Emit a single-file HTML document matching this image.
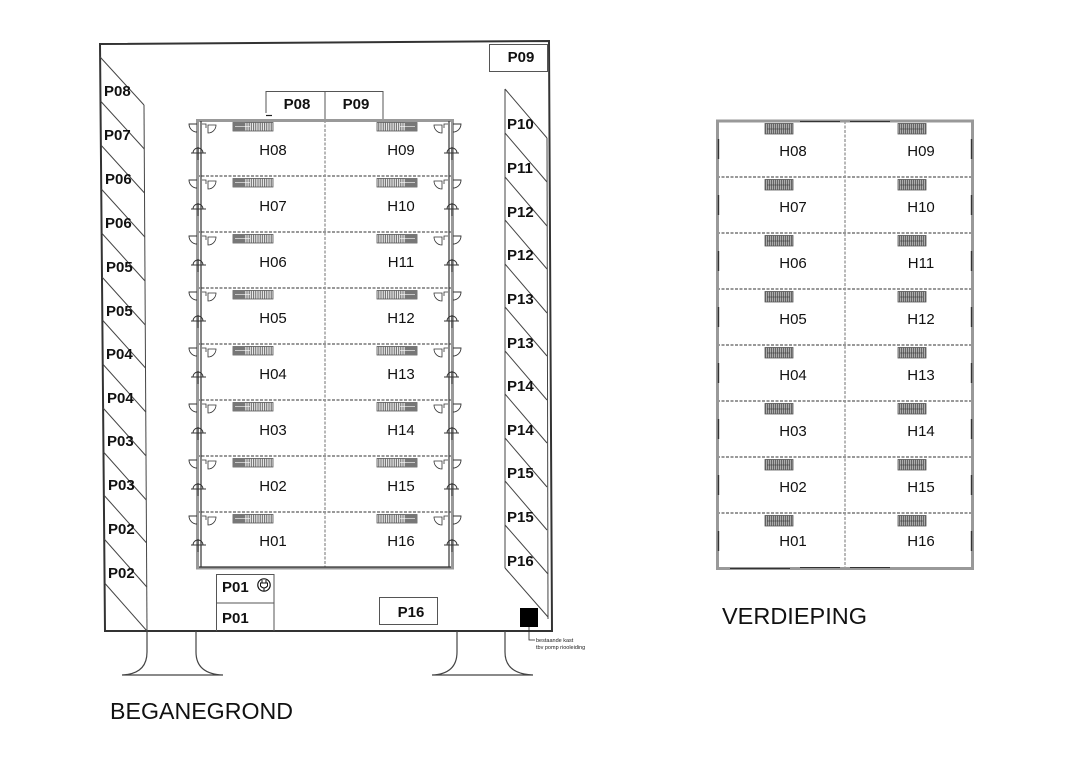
<!DOCTYPE html>
<html><head><meta charset="utf-8">
<style>
html,body{margin:0;padding:0;background:#fff;}
svg{display:block;}
text{font-family:"Liberation Sans",Arial,sans-serif;}
.p{font-weight:bold;font-size:15px;fill:#111;}
.h{font-size:15px;fill:#111;text-anchor:middle;}
</style></head><body>
<svg width="1080" height="763" viewBox="0 0 1080 763" xmlns="http://www.w3.org/2000/svg">
<defs>
<pattern id="hatch" width="2.2" height="20" patternUnits="userSpaceOnUse"><rect width="2.2" height="20" fill="#eee"/><line x1="0.6" y1="0" x2="0.6" y2="20" stroke="#555" stroke-width="0.9"/></pattern>
<pattern id="hatch2" width="2" height="20" patternUnits="userSpaceOnUse"><rect width="2" height="20" fill="#666"/><line x1="0.6" y1="0" x2="0.6" y2="20" stroke="#ddd" stroke-width="0.6"/></pattern>
<g id="lrow">
 <path d="M197 4 H189 A8 8 0 0 0 197 12" fill="none" stroke="#333" stroke-width="0.9"/>
 <path d="M202 4 H206 V8" fill="none" stroke="#333" stroke-width="0.8"/>
 <path d="M208 5 H216 A8 8 0 0 1 208 13 Z" fill="none" stroke="#333" stroke-width="0.8"/>
 <path d="M193 33 A5 5 0 0 1 203 33" fill="none" stroke="#333" stroke-width="0.9"/>
 <path d="M191 33 H206 M198 27 V40" stroke="#333" stroke-width="0.9" fill="none"/>
 <rect x="233" y="2.5" width="40" height="8.5" fill="url(#hatch)" stroke="#555" stroke-width="0.8"/>
 <rect x="233" y="2.5" width="12" height="8.5" fill="#777"/>
 <line x1="235" y1="6.5" x2="250" y2="6.5" stroke="#fff" stroke-width="0.6"/>
</g>
<g id="rrow">
 <rect x="765" y="2.5" width="28" height="10.5" fill="url(#hatch2)" stroke="#555" stroke-width="0.8"/>
 <line x1="767" y1="8" x2="790" y2="8" stroke="#333" stroke-width="0.6"/>
 <rect x="898" y="2.5" width="28" height="10.5" fill="url(#hatch2)" stroke="#555" stroke-width="0.8"/>
 <line x1="900" y1="8" x2="923" y2="8" stroke="#333" stroke-width="0.6"/>
 <line x1="718.5" y1="18" x2="718.5" y2="38" stroke="#333" stroke-width="1.4"/>
 <line x1="971.5" y1="18" x2="971.5" y2="38" stroke="#333" stroke-width="1.4"/>
</g>
</defs>

<!-- ===== BEGANEGROND outer building ===== -->
<polygon points="100,44 549,41 552,631 105,631" fill="none" stroke="#333" stroke-width="2"/>

<!-- left parking strip -->
<g stroke="#444" stroke-width="1" fill="none">
 <line x1="144" y1="105" x2="147" y2="631"/>
 <line x1="100.1" y1="57" x2="144" y2="105"/>
 <line x1="100.5" y1="101" x2="144.3" y2="149"/>
 <line x1="100.9" y1="145" x2="144.5" y2="193"/>
 <line x1="101.3" y1="189" x2="144.8" y2="237"/>
 <line x1="101.6" y1="233" x2="145" y2="281"/>
 <line x1="102" y1="277" x2="145.3" y2="325"/>
 <line x1="102.4" y1="320" x2="145.5" y2="368"/>
 <line x1="102.7" y1="364" x2="145.8" y2="412"/>
 <line x1="103.1" y1="408" x2="146.1" y2="456"/>
 <line x1="103.5" y1="452" x2="146.3" y2="500"/>
 <line x1="103.8" y1="495" x2="146.6" y2="543"/>
 <line x1="104.2" y1="539" x2="146.8" y2="587"/>
 <line x1="104.6" y1="583" x2="147" y2="631"/>
</g>
<text class="p" x="104" y="96">P08</text>
<text class="p" x="104" y="140">P07</text>
<text class="p" x="105" y="184">P06</text>
<text class="p" x="105" y="228">P06</text>
<text class="p" x="106" y="272">P05</text>
<text class="p" x="106" y="316">P05</text>
<text class="p" x="106" y="359">P04</text>
<text class="p" x="107" y="403">P04</text>
<text class="p" x="107" y="446">P03</text>
<text class="p" x="108" y="490">P03</text>
<text class="p" x="108" y="534">P02</text>
<text class="p" x="108" y="578">P02</text>

<!-- right parking strip -->
<g stroke="#444" stroke-width="1" fill="none">
 <line x1="505" y1="89" x2="505" y2="568"/>
 <line x1="547" y1="138" x2="548" y2="619"/>
 <line x1="505" y1="89" x2="547" y2="138"/>
 <line x1="505" y1="133" x2="547" y2="182"/>
 <line x1="505" y1="177" x2="547" y2="226"/>
 <line x1="505" y1="220" x2="547" y2="269"/>
 <line x1="505" y1="264" x2="547" y2="313"/>
 <line x1="505" y1="307" x2="547" y2="356"/>
 <line x1="505" y1="351" x2="547" y2="400"/>
 <line x1="505" y1="394" x2="547" y2="443"/>
 <line x1="505" y1="438" x2="547" y2="487"/>
 <line x1="505" y1="481" x2="547" y2="530"/>
 <line x1="505" y1="525" x2="548" y2="574"/>
 <line x1="505" y1="568" x2="548" y2="617"/>
</g>
<text class="p" x="507" y="129">P10</text>
<text class="p" x="507" y="173">P11</text>
<text class="p" x="507" y="217">P12</text>
<text class="p" x="507" y="260">P12</text>
<text class="p" x="507" y="304">P13</text>
<text class="p" x="507" y="348">P13</text>
<text class="p" x="507" y="391">P14</text>
<text class="p" x="507" y="435">P14</text>
<text class="p" x="507" y="478">P15</text>
<text class="p" x="507" y="522">P15</text>
<text class="p" x="507" y="566">P16</text>

<!-- top right P09 box -->
<rect x="489.5" y="44.5" width="58" height="27" fill="none" stroke="#555" stroke-width="1"/>
<text class="p" x="521" y="62" text-anchor="middle">P09</text>

<!-- P08 / P09 boxes above grid -->
<path d="M266 113 V91.5 H383 V119 M325 91.5 V119" fill="none" stroke="#555" stroke-width="1"/>
<line x1="266" y1="115.5" x2="272" y2="115.5" stroke="#222" stroke-width="1.2"/>
<text class="p" x="297" y="109" text-anchor="middle">P08</text>
<text class="p" x="356" y="109" text-anchor="middle">P09</text>

<!-- grid of units (ground) -->
<rect x="197.5" y="120.5" width="255" height="447.5" fill="none" stroke="#999" stroke-width="3"/>
<g stroke="#999" stroke-width="2" stroke-dasharray="3 1.5">
 <line x1="197" y1="176" x2="453" y2="176"/>
 <line x1="197" y1="232" x2="453" y2="232"/>
 <line x1="197" y1="288" x2="453" y2="288"/>
 <line x1="197" y1="344" x2="453" y2="344"/>
 <line x1="197" y1="400" x2="453" y2="400"/>
 <line x1="197" y1="456" x2="453" y2="456"/>
 <line x1="197" y1="512" x2="453" y2="512"/>
 <line x1="325" y1="120" x2="325" y2="568" stroke-width="1.4"/>
</g>
<g stroke="#333" stroke-width="1.2">
 <line x1="201" y1="121" x2="201" y2="567"/>
 <line x1="449" y1="121" x2="449" y2="567"/>
 <line x1="199" y1="567" x2="451" y2="567"/>
</g>
<use href="#lrow" transform="translate(0,120)"/>
<use href="#lrow" transform="translate(0,176)"/>
<use href="#lrow" transform="translate(0,232)"/>
<use href="#lrow" transform="translate(0,288)"/>
<use href="#lrow" transform="translate(0,344)"/>
<use href="#lrow" transform="translate(0,400)"/>
<use href="#lrow" transform="translate(0,456)"/>
<use href="#lrow" transform="translate(0,512)"/>
<use href="#lrow" transform="translate(650,120) scale(-1,1)"/>
<use href="#lrow" transform="translate(650,176) scale(-1,1)"/>
<use href="#lrow" transform="translate(650,232) scale(-1,1)"/>
<use href="#lrow" transform="translate(650,288) scale(-1,1)"/>
<use href="#lrow" transform="translate(650,344) scale(-1,1)"/>
<use href="#lrow" transform="translate(650,400) scale(-1,1)"/>
<use href="#lrow" transform="translate(650,456) scale(-1,1)"/>
<use href="#lrow" transform="translate(650,512) scale(-1,1)"/>

<text class="h" x="273" y="155">H08</text>
<text class="h" x="273" y="211">H07</text>
<text class="h" x="273" y="267">H06</text>
<text class="h" x="273" y="323">H05</text>
<text class="h" x="273" y="379">H04</text>
<text class="h" x="273" y="435">H03</text>
<text class="h" x="273" y="491">H02</text>
<text class="h" x="273" y="546">H01</text>
<text class="h" x="401" y="155">H09</text>
<text class="h" x="401" y="211">H10</text>
<text class="h" x="401" y="267">H11</text>
<text class="h" x="401" y="323">H12</text>
<text class="h" x="401" y="379">H13</text>
<text class="h" x="401" y="435">H14</text>
<text class="h" x="401" y="491">H15</text>
<text class="h" x="401" y="546">H16</text>

<!-- P01 boxes -->
<path d="M216.5 631 V574.5 H274 V631 M216.5 603 H274" fill="none" stroke="#555" stroke-width="1"/>
<text class="p" x="222" y="592">P01</text>
<text class="p" x="222" y="623">P01</text>
<circle cx="264" cy="585" r="6.2" fill="none" stroke="#111" stroke-width="1.2"/>
<path d="M262 580 V583 M266 580 V583 M260.5 583 H267.5 V586 Q264 590 260.5 586 Z M264 588 V591" fill="none" stroke="#111" stroke-width="1"/>

<!-- P16 box -->
<rect x="379.5" y="597.5" width="58" height="27" fill="none" stroke="#555" stroke-width="1"/>
<text class="p" x="411" y="617" text-anchor="middle">P16</text>

<!-- existing cabinet -->
<rect x="520" y="608" width="18" height="19" fill="#000"/>
<path d="M529 627 V640 H535" fill="none" stroke="#222" stroke-width="0.8"/>
<text x="536" y="642" font-size="5.5" fill="#222">bestaande kast</text>
<text x="536" y="649" font-size="5.5" fill="#222">tbv pomp riooleiding</text>

<!-- legs -->
<g fill="none" stroke="#444" stroke-width="1.2">
 <path d="M147 631 V652 Q147 674 122 675 H223 Q196 674 196 652 V631"/>
 <path d="M457 631 V652 Q457 674 432 675 H533 Q505 674 505 652 V631"/>
</g>

<text x="110" y="719" font-size="23" fill="#111" textLength="183" lengthAdjust="spacingAndGlyphs">BEGANEGROND</text>

<!-- ===== VERDIEPING ===== -->
<rect x="717.5" y="121" width="255" height="447.5" fill="none" stroke="#999" stroke-width="3"/>
<g stroke="#999" stroke-width="2" stroke-dasharray="3 1.5">
 <line x1="717" y1="177" x2="973" y2="177"/>
 <line x1="717" y1="233" x2="973" y2="233"/>
 <line x1="717" y1="289" x2="973" y2="289"/>
 <line x1="717" y1="345" x2="973" y2="345"/>
 <line x1="717" y1="401" x2="973" y2="401"/>
 <line x1="717" y1="457" x2="973" y2="457"/>
 <line x1="717" y1="513" x2="973" y2="513"/>
 <line x1="845" y1="121" x2="845" y2="569" stroke-width="1.4"/>
</g>
<g stroke="#333" stroke-width="1">
 <line x1="730" y1="568.5" x2="790" y2="568.5"/>
 <line x1="800" y1="567.5" x2="840" y2="567.5"/>
 <line x1="850" y1="567.5" x2="890" y2="567.5"/>
 <line x1="800" y1="121.5" x2="840" y2="121.5"/>
 <line x1="850" y1="121.5" x2="890" y2="121.5"/>
</g>
<use href="#rrow" transform="translate(0,121)"/>
<use href="#rrow" transform="translate(0,177)"/>
<use href="#rrow" transform="translate(0,233)"/>
<use href="#rrow" transform="translate(0,289)"/>
<use href="#rrow" transform="translate(0,345)"/>
<use href="#rrow" transform="translate(0,401)"/>
<use href="#rrow" transform="translate(0,457)"/>
<use href="#rrow" transform="translate(0,513)"/>

<text class="h" x="793" y="156">H08</text>
<text class="h" x="793" y="212">H07</text>
<text class="h" x="793" y="268">H06</text>
<text class="h" x="793" y="324">H05</text>
<text class="h" x="793" y="380">H04</text>
<text class="h" x="793" y="436">H03</text>
<text class="h" x="793" y="492">H02</text>
<text class="h" x="793" y="546">H01</text>
<text class="h" x="921" y="156">H09</text>
<text class="h" x="921" y="212">H10</text>
<text class="h" x="921" y="268">H11</text>
<text class="h" x="921" y="324">H12</text>
<text class="h" x="921" y="380">H13</text>
<text class="h" x="921" y="436">H14</text>
<text class="h" x="921" y="492">H15</text>
<text class="h" x="921" y="546">H16</text>

<text x="722" y="624" font-size="23" fill="#111" textLength="145" lengthAdjust="spacingAndGlyphs">VERDIEPING</text>
</svg>
</body></html>
